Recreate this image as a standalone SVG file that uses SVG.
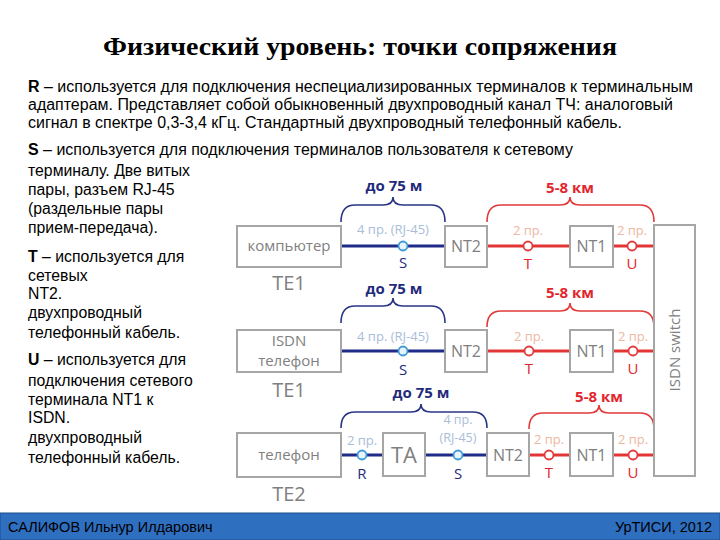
<svg xmlns="http://www.w3.org/2000/svg" width="720" height="540" viewBox="0 0 720 540">
<style>
.para{font-family:"Liberation Sans",Arial,sans-serif;font-size:15.8px;fill:#000}
.b{font-weight:bold}
.title{font-family:"Liberation Serif","Times New Roman",serif;font-size:26px;font-weight:bold;fill:#000}
.box{fill:#fff;stroke:#a6a6a6;stroke-width:2}
.lbl{font-family:"Open Sans","Noto Sans",sans-serif;fill:#808080;text-anchor:middle}
.big{font-size:15px}
.nt{font-size:16px}
.te{font-size:20px}
.bl{stroke:#1f2b87;stroke-width:3;fill:none}
.rl{stroke:#e23636;stroke-width:3;fill:none}
.bb{stroke:#2a3585;stroke-width:1.6;fill:none}
.rb{stroke:#e23a3a;stroke-width:1.6;fill:none}
.bc{fill:#e6f4fc;stroke:#3d9ad6;stroke-width:1.8}
.rc{fill:#fff;stroke:#e23a3a;stroke-width:1.8}
.sm{font-family:"Open Sans","Noto Sans",sans-serif;font-size:13px;text-anchor:middle}
.sb{fill:#a9bdd9}
.sr{fill:#edb7a3}
.pt{font-family:"Open Sans","Noto Sans",sans-serif;font-size:15px;text-anchor:middle}
.pb{fill:#1f2b7a}
.pr{fill:#e2262e}
.dist{font-family:"Open Sans","Noto Sans",sans-serif;font-size:15px;font-weight:bold;text-anchor:middle}
.foot{font-family:"Liberation Sans",Arial,sans-serif;font-size:14.5px;fill:#000}
</style>
<rect width="720" height="540" fill="#fff"/>
<text class="title" x="360" y="55" text-anchor="middle" textLength="514" lengthAdjust="spacingAndGlyphs">Физический уровень: точки сопряжения</text>

<g id="text-R">
<text class="para" x="28" y="92" textLength="665" lengthAdjust="spacingAndGlyphs"><tspan class="b">R</tspan> – используется для подключения неспециализированных терминалов к терминальным</text>
<text class="para" x="28" y="110" textLength="645" lengthAdjust="spacingAndGlyphs">адаптерам. Представляет собой обыкновенный двухпроводный канал ТЧ: аналоговый</text>
<text class="para" x="28" y="128" textLength="594" lengthAdjust="spacingAndGlyphs">сигнал в спектре 0,3-3,4 кГц. Стандартный двухпроводный телефонный кабель.</text>
</g>
<g id="text-S">
<text class="para" x="28" y="155" textLength="545" lengthAdjust="spacingAndGlyphs"><tspan class="b">S</tspan> – используется для подключения терминалов пользователя к сетевому</text>
<text class="para" x="28" y="176">терминалу. Две витых</text>
<text class="para" x="28" y="195">пары, разъем RJ-45</text>
<text class="para" x="28" y="214">(раздельные пары</text>
<text class="para" x="28" y="233">прием-передача).</text>
</g>
<g id="text-T">
<text class="para" x="28" y="262"><tspan class="b">T</tspan> – используется для</text>
<text class="para" x="28" y="281">сетевых</text>
<text class="para" x="28" y="299">NT2.</text>
<text class="para" x="28" y="318">двухпроводный</text>
<text class="para" x="28" y="338">телефонный кабель.</text>
</g>
<g id="text-U">
<text class="para" x="28" y="365"><tspan class="b">U</tspan> – используется для</text>
<text class="para" x="28" y="386">подключения сетевого</text>
<text class="para" x="28" y="405">терминала NT1 к</text>
<text class="para" x="28" y="423">ISDN.</text>
<text class="para" x="28" y="443">двухпроводный</text>
<text class="para" x="28" y="463">телефонный кабель.</text>
</g>

<g id="connectors">
<line class="bl" x1="341" y1="246" x2="445" y2="246"/>
<line class="rl" x1="487" y1="246" x2="570" y2="246"/>
<line class="rl" x1="613" y1="246" x2="654" y2="246"/>
<line class="bl" x1="341" y1="351" x2="445" y2="351"/>
<line class="rl" x1="487" y1="351" x2="570" y2="351"/>
<line class="rl" x1="613" y1="351" x2="654" y2="351"/>
<line class="bl" x1="341" y1="455" x2="383" y2="455"/>
<line class="bl" x1="425" y1="455" x2="487" y2="455"/>
<line class="rl" x1="529" y1="455" x2="570" y2="455"/>
<line class="rl" x1="613" y1="455" x2="654" y2="455"/>
<path class="bb" d="M341 222 Q341 205 355 205 L383 205 Q393 205 393 197 Q393 205 403 205 L431 205 Q445 205 445 222"/>
<path class="rb" d="M487 222 Q487 205 501 205 L560 205 Q570 205 570 197 Q570 205 580 205 L640 205 Q654 205 654 222"/>
<path class="bb" d="M341 323 Q341 306 355 306 L383 306 Q393 306 393 298 Q393 306 403 306 L431 306 Q445 306 445 323"/>
<path class="rb" d="M487 327 Q487 311 501 311 L560 311 Q570 311 570 303 Q570 311 580 311 L640 311 Q654 311 654 327"/>
<path class="bb" d="M341 428 Q341 412 355 412 L411 412 Q421 412 421 404 Q421 412 431 412 L473 412 Q487 412 487 428"/>
<path class="rb" d="M529 429 Q529 413 543 413 L589 413 Q599 413 599 405 Q599 413 609 413 L640 413 Q654 413 654 429"/>
<circle class="bc" cx="403" cy="246" r="4.5"/>
<circle class="rc" cx="528" cy="246" r="4.5"/>
<circle class="rc" cx="632" cy="246" r="4.5"/>
<circle class="bc" cx="403" cy="351" r="4.5"/>
<circle class="rc" cx="529" cy="351" r="4.5"/>
<circle class="rc" cx="633" cy="351" r="4.5"/>
<circle class="bc" cx="362" cy="455" r="4.5"/>
<circle class="bc" cx="458" cy="455" r="4.5"/>
<circle class="rc" cx="549" cy="455" r="4.5"/>
<circle class="rc" cx="633" cy="455" r="4.5"/>
<text class="dist pb" x="394" y="191">до 75 м</text>
<text class="dist pr" x="570" y="193">5-8 км</text>
<text class="dist pb" x="394" y="294">до 75 м</text>
<text class="dist pr" x="570" y="298">5-8 км</text>
<text class="dist pb" x="421" y="398">до 75 м</text>
<text class="dist pr" x="599" y="402">5-8 км</text>
<text class="sm sb" x="393" y="234">4 пр. (RJ-45)</text>
<text class="sm sr" x="528" y="235">2 пр.</text>
<text class="sm sr" x="632" y="235">2 пр.</text>
<text class="sm sb" x="393" y="341">4 пр. (RJ-45)</text>
<text class="sm sr" x="529" y="341">2 пр.</text>
<text class="sm sr" x="633" y="341">2 пр.</text>
<text class="sm sb" x="362" y="445">2 пр.</text>
<text class="sm sb" style="font-size:12.5px" x="458" y="424">4 пр.</text>
<text class="sm sb" style="font-size:12.5px" x="458" y="442">(RJ-45)</text>
<text class="sm sr" x="549" y="444">2 пр.</text>
<text class="sm sr" x="633" y="444">2 пр.</text>
<text class="pt pb" x="403" y="268">S</text>
<text class="pt pr" x="528" y="269">T</text>
<text class="pt pr" x="632" y="269">U</text>
<text class="pt pb" x="403" y="375">S</text>
<text class="pt pr" x="529" y="374">T</text>
<text class="pt pr" x="633" y="374">U</text>
<text class="pt pb" x="362" y="479">R</text>
<text class="pt pb" x="458" y="479">S</text>
<text class="pt pr" x="549" y="478">T</text>
<text class="pt pr" x="633" y="478">U</text>
</g>

<g id="computer">
<rect class="box" x="237" y="226" width="104" height="41"/>
<text class="lbl big" x="289" y="251">компьютер</text>
<text class="lbl te" x="289" y="290">TE1</text>
</g>
<g id="nt2-1"><rect class="box" x="445" y="226" width="42" height="41"/><text class="lbl nt" x="466" y="252">NT2</text></g>
<g id="nt1-1"><rect class="box" x="570" y="226" width="43" height="41"/><text class="lbl nt" x="591.5" y="252">NT1</text></g>

<g id="isdn-phone">
<rect class="box" x="237" y="330" width="104" height="42"/>
<text class="lbl big" x="289" y="346">ISDN</text>
<text class="lbl big" x="289" y="366">телефон</text>
<text class="lbl te" x="289" y="397">TE1</text>
</g>
<g id="nt2-2"><rect class="box" x="445" y="330" width="42" height="42"/><text class="lbl nt" x="466" y="357">NT2</text></g>
<g id="nt1-2"><rect class="box" x="570" y="330" width="43" height="42"/><text class="lbl nt" x="591.5" y="357">NT1</text></g>

<g id="phone">
<rect class="box" x="237" y="433" width="104" height="44"/>
<text class="lbl big" x="289" y="460">телефон</text>
<text class="lbl te" x="289" y="501">TE2</text>
</g>
<g id="ta"><rect class="box" x="383" y="433" width="42" height="43"/><text class="lbl" style="font-size:22px" x="404" y="463">TA</text></g>
<g id="nt2-3"><rect class="box" x="487" y="433" width="42" height="43"/><text class="lbl nt" x="508" y="461">NT2</text></g>
<g id="nt1-3"><rect class="box" x="570" y="433" width="43" height="43"/><text class="lbl nt" x="591.5" y="461">NT1</text></g>

<g id="isdn-switch">
<rect class="box" x="654" y="225" width="41" height="251"/>
<text class="lbl" style="font-size:15px" transform="translate(680,350) rotate(-90)" x="0" y="0">ISDN switch</text>
</g>

<g id="footer">
<rect x="0" y="513" width="720" height="27" fill="#2f6fc0" stroke="#1d4e8f" stroke-width="1"/>
<text class="foot" x="8" y="532">САЛИФОВ Ильнур Илдарович</text>
<text class="foot" x="712" y="532" text-anchor="end">УрТИСИ, 2012</text>
</g>
</svg>
